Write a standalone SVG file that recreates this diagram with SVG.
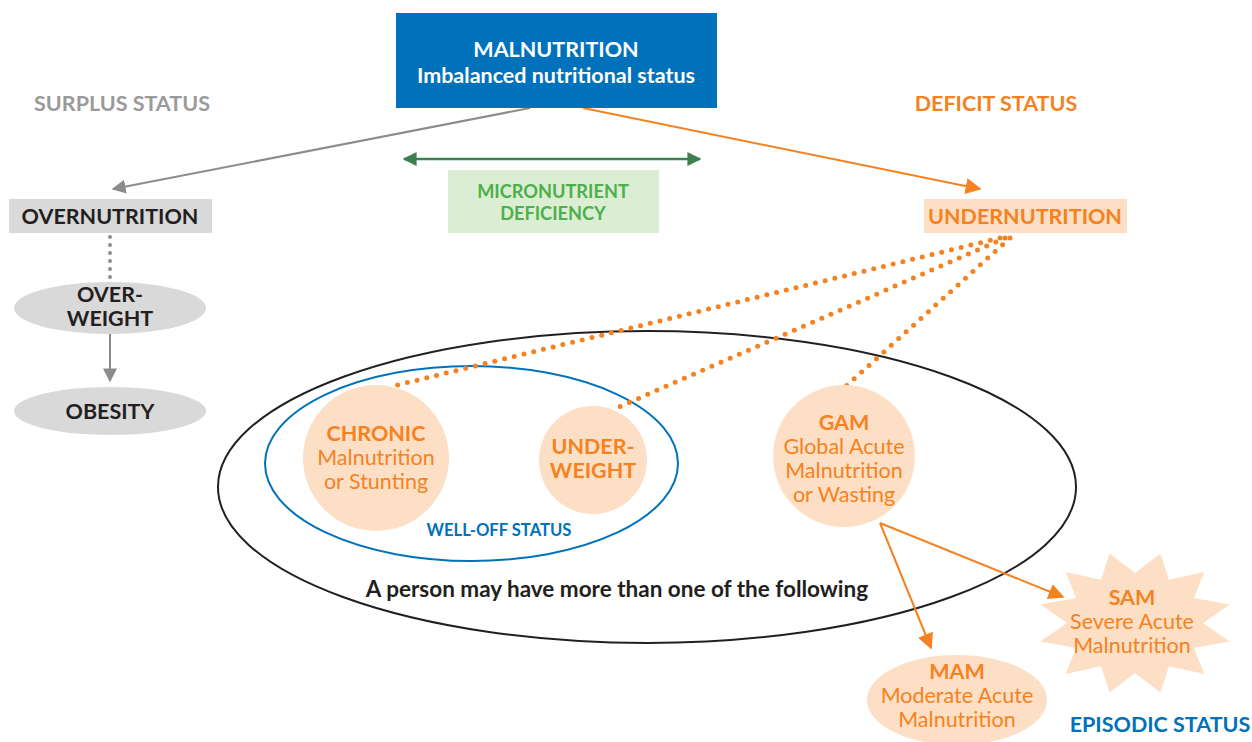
<svg xmlns="http://www.w3.org/2000/svg" width="1252" height="742" viewBox="0 0 1252 742">
<defs>
<style>
.t{font-family:Lato,"Open Sans","Liberation Sans",sans-serif;text-anchor:middle;font-size:21.5px}
.b{font-weight:bold}
.or{fill:#F58220}
.pe{fill:#FDDFC6}
.gr{fill:#D9D9D9}
.dk{fill:#231F20}
</style>
<marker id="ag" viewBox="0 0 10 10" refX="9" refY="5" markerWidth="14" markerHeight="14" markerUnits="userSpaceOnUse" orient="auto"><path d="M0,0 L10,5 L0,10 z" fill="#8C8C8C"/></marker>
<marker id="ao" viewBox="0 0 10 10" refX="9" refY="5" markerWidth="16" markerHeight="16" markerUnits="userSpaceOnUse" orient="auto"><path d="M0,0 L10,5 L0,10 z" fill="#F58220"/></marker>
<marker id="agr" viewBox="0 0 10 10" refX="9" refY="5" markerWidth="14" markerHeight="14" markerUnits="userSpaceOnUse" orient="auto-start-reverse"><path d="M0,0 L10,5 L0,10 z" fill="#3F7F4F"/></marker>
</defs>
<rect width="1252" height="742" fill="#fff"/>

<g id="labels">
<text class="t b" x="122" y="111" fill="#9A9A9A">SURPLUS STATUS</text>
<text class="t b" x="996" y="111" fill="#F58220">DEFICIT STATUS</text>
<text class="t b" x="1160" y="732" fill="#0072BC">EPISODIC STATUS</text>
</g>

<g id="outer-ellipse">
<ellipse cx="647" cy="487" rx="429" ry="156" fill="none" stroke="#231F20" stroke-width="2"/>
<text class="t b dk" x="617" y="597" style="font-size:22.5px">A person may have more than one of the following</text>
</g>
<g id="welloff-ellipse">
<ellipse cx="471.5" cy="463.5" rx="206.5" ry="97.5" fill="none" stroke="#0072BC" stroke-width="2"/>
<text class="t b" x="499" y="536" style="font-size:16.6px" fill="#0072BC">WELL-OFF STATUS</text>
</g>

<g id="connectors">
<line x1="530" y1="108" x2="113" y2="189" stroke="#8C8C8C" stroke-width="2" marker-end="url(#ag)"/>
<line x1="583" y1="108" x2="980" y2="189" stroke="#F58220" stroke-width="2" marker-end="url(#ao)"/>
<line x1="404" y1="159" x2="700" y2="159" stroke="#3F7F4F" stroke-width="2.5" marker-start="url(#agr)" marker-end="url(#agr)"/>
<line x1="110" y1="237" x2="110" y2="282" stroke="#8C8C8C" stroke-width="4" stroke-linecap="round" stroke-dasharray="0 8"/>
<line x1="110" y1="334" x2="110" y2="381" stroke="#8C8C8C" stroke-width="2" marker-end="url(#ag)"/>
<g stroke="#F58220" stroke-width="5" stroke-linecap="round" stroke-dasharray="0 10" fill="none">
<line x1="1000" y1="238" x2="389" y2="387"/>
<line x1="1005" y1="238" x2="612" y2="410"/>
<line x1="1010" y1="238" x2="844" y2="388"/>
</g>
<line x1="880" y1="523" x2="931" y2="648" stroke="#F58220" stroke-width="2" marker-end="url(#ao)"/>
<line x1="880" y1="523" x2="1063" y2="597" stroke="#F58220" stroke-width="2" marker-end="url(#ao)"/>
</g>

<g id="malnutrition">
<rect x="396" y="13" width="321" height="95" fill="#0072BC"/>
<text class="t b" x="556" y="57" fill="#fff">MALNUTRITION</text>
<text class="t b" x="556" y="83" fill="#fff">Imbalanced nutritional status</text>
</g>

<g id="overnutrition">
<rect x="9" y="199" width="203" height="34" class="gr"/>
<text class="t b dk" x="110" y="224">OVERNUTRITION</text>
</g>
<g id="overweight">
<ellipse cx="110" cy="308" rx="96" ry="26" class="gr"/>
<text class="t b dk" x="110" y="302">OVER-</text>
<text class="t b dk" x="110" y="326">WEIGHT</text>
</g>
<g id="obesity">
<ellipse cx="110" cy="411" rx="96" ry="24" class="gr"/>
<text class="t b dk" x="110" y="419">OBESITY</text>
</g>

<g id="micronutrient">
<rect x="448" y="170" width="211" height="63" fill="#DBEDD3"/>
<text class="t b" x="553" y="198" style="font-size:18.2px" fill="#4DB04A">MICRONUTRIENT</text>
<text class="t b" x="553" y="220" style="font-size:18.2px" fill="#4DB04A">DEFICIENCY</text>
</g>

<g id="undernutrition">
<rect x="924" y="199" width="203" height="34" class="pe"/>
<text class="t b or" x="1025" y="224">UNDERNUTRITION</text>
</g>

<g id="chronic">
<circle cx="376" cy="458" r="73" class="pe"/>
<text class="t b or" x="376" y="441">CHRONIC</text>
<text class="t or" x="376" y="465">Malnutrition</text>
<text class="t or" x="376" y="489">or Stunting</text>
</g>
<g id="underweight">
<circle cx="593" cy="460" r="54" class="pe"/>
<text class="t b or" x="593" y="454">UNDER-</text>
<text class="t b or" x="593" y="478">WEIGHT</text>
</g>
<g id="gam">
<circle cx="844" cy="456" r="71" class="pe"/>
<text class="t b or" x="844" y="430">GAM</text>
<text class="t or" x="844" y="454">Global Acute</text>
<text class="t or" x="844" y="478">Malnutrition</text>
<text class="t or" x="844" y="502">or Wasting</text>
</g>
<g id="mam">
<ellipse cx="957" cy="700" rx="90" ry="45" class="pe"/>
<text class="t b or" x="957" y="679">MAM</text>
<text class="t or" x="957" y="703">Moderate Acute</text>
<text class="t or" x="957" y="727">Malnutrition</text>
</g>
<g id="sam">
<polygon class="pe" points="1109.6,553.5 1135,573 1160.4,553.5 1169,579.7 1204.3,572.1 1193.9,598 1229.7,604.4 1203,623 1229.7,641.6 1193.9,648 1204.3,673.9 1169,666.3 1160.4,692.5 1135,673 1109.6,692.5 1101,666.3 1065.7,673.9 1076.1,648 1040.3,641.6 1067,623 1040.3,604.4 1076.1,598 1065.7,572.1 1101,579.7"/>
<text class="t b or" x="1132" y="605">SAM</text>
<text class="t or" x="1132" y="629">Severe Acute</text>
<text class="t or" x="1132" y="653">Malnutrition</text>
</g>
</svg>
